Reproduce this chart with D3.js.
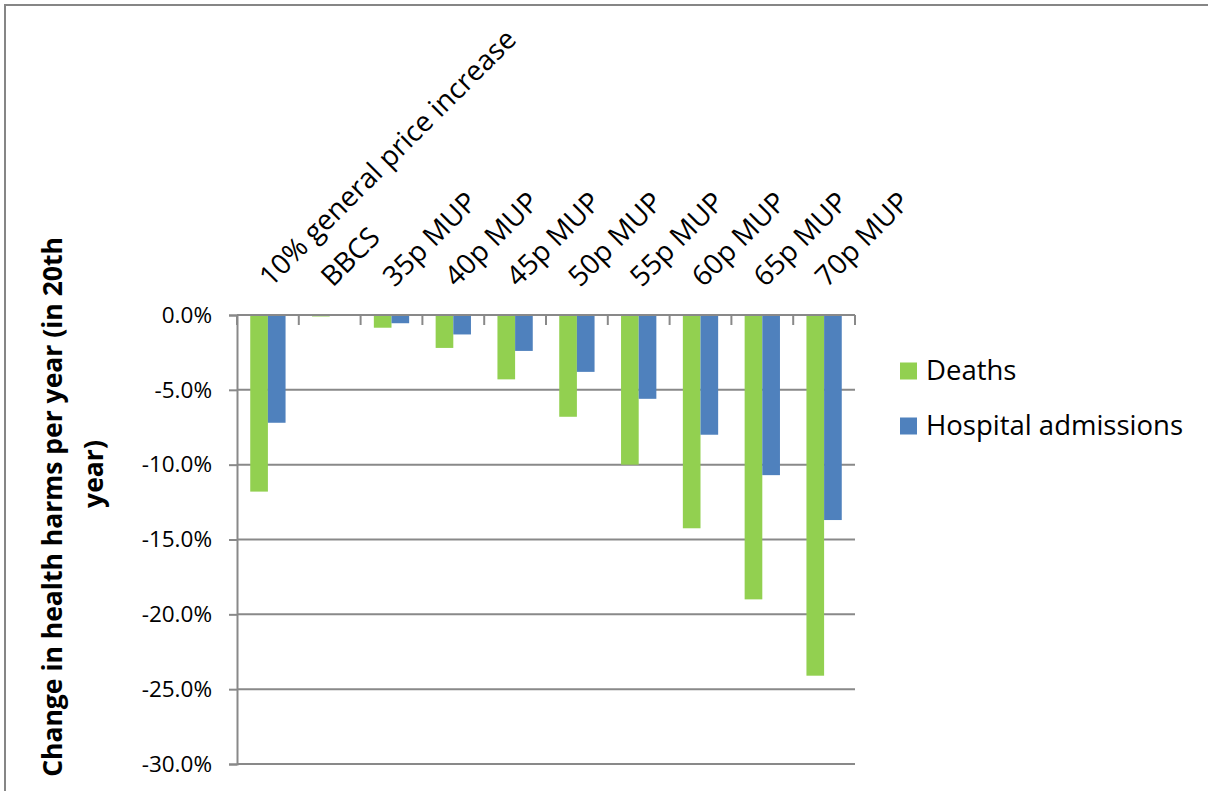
<!DOCTYPE html>
<html><head><meta charset="utf-8">
<script src="https://cdn.jsdelivr.net/npm/d3@7"></script>
<style>
html,body{margin:0;padding:0;background:#fff;}
svg{display:block;}
text{font-family:"Open Sans",sans-serif;fill:#000;}
</style></head>
<body>
<svg id="chart" width="1208" height="791"></svg>
<script>
const categories = ["10% general price increase","BBCS","35p MUP","40p MUP","45p MUP","50p MUP","55p MUP","60p MUP","65p MUP","70p MUP"];
const seriesNames = ["Deaths","Hospital admissions"];
const deaths = [-11.8,-0.1,-0.85,-2.2,-4.3,-6.8,-10.0,-14.25,-19.0,-24.1];
const hospital = [-7.2,-0.05,-0.55,-1.3,-2.4,-3.8,-5.6,-8.0,-10.7,-13.7];
const yTicks = [0,-5,-10,-15,-20,-25,-30];
const colors = ["#92D050","#4F81BD"];
const yTitle = ["Change in health harms per year (in 20th","year)"];

const svg = d3.select("#chart");
// outer frame
svg.append("rect").attr("x",5).attr("y",5).attr("width",1240).attr("height",820)
  .attr("fill","none").attr("stroke","#868686").attr("stroke-width",2);

const L=237,R=855,T=315,B=764;
const x = d3.scaleBand().domain(categories).range([L,R]).padding(0);
const x1 = d3.scaleBand().domain(seriesNames).range([0,x.bandwidth()]).paddingInner(0).paddingOuter(0.75);
const y = d3.scaleLinear().domain([-30,0]).range([B,T]);

// gridlines
svg.append("g").selectAll("line").data(yTicks.filter(d=>d!==0)).join("line")
  .attr("x1",L).attr("x2",R).attr("y1",d=>y(d)).attr("y2",d=>y(d))
  .attr("stroke","#898989").attr("stroke-width",2);

// bars
const data = categories.map((c,i)=>({c, vals:[deaths[i],hospital[i]]}));
const g = svg.append("g");
data.forEach(d=>{
  d.vals.forEach((v,j)=>{
    g.append("rect")
      .attr("x",x(d.c)+x1(seriesNames[j]))
      .attr("y",y(0))
      .attr("width",x1.bandwidth())
      .attr("height",Math.max(0.8,y(v)-y(0)))
      .attr("fill",colors[j]);
  });
});

// y axis
const yAxis = d3.axisLeft(y).tickValues(yTicks).tickSize(8).tickPadding(17)
  .tickFormat(d=>d3.format(".1f")(d).replace("\u2212","-")+"%");
const ya = svg.append("g").attr("transform",`translate(${L},0)`).call(yAxis);
ya.select(".domain").attr("stroke","#898989").attr("stroke-width",2);
ya.selectAll(".tick line").attr("stroke","#898989").attr("stroke-width",2);
ya.selectAll(".tick text").style("font-size","22.5px").attr("fill","#000");

// x axis at zero, ticks downward
const xa = svg.append("g");
xa.append("line").attr("x1",L).attr("x2",R).attr("y1",y(0)).attr("y2",y(0))
  .attr("stroke","#898989").attr("stroke-width",2);
const bounds = categories.map(c=>x(c)).concat([R]);
xa.selectAll("line.tk").data(bounds).join("line").attr("class","tk")
  .attr("x1",d=>d).attr("x2",d=>d).attr("y1",y(0)).attr("y2",y(0)+10)
  .attr("stroke","#898989").attr("stroke-width",2);
xa.selectAll("text").data(categories).join("text")
  .attr("transform",d=>`translate(${x(d)+x.bandwidth()/2+3},${y(0)-27}) rotate(-45)`)
  .attr("text-anchor","start").style("font-size","28px").text(d=>d);

// y title
const yt = svg.append("g");
yt.append("text").attr("transform","translate(62,507) rotate(-90)").attr("text-anchor","middle")
  .style("font-size","26.5px").style("font-weight","bold").text(yTitle[0]);
yt.append("text").attr("transform","translate(103,474) rotate(-90)").attr("text-anchor","middle")
  .style("font-size","26.5px").style("font-weight","bold").text(yTitle[1]);

// legend
const lg = svg.append("g");
seriesNames.forEach((s,i)=>{
  const cy = 371 + i*55;
  lg.append("rect").attr("x",900).attr("y",cy-8.5).attr("width",17).attr("height",17).attr("fill",colors[i]);
  lg.append("text").attr("x",926).attr("y",cy+9).style("font-size","27.5px").text(s);
});
</script>
</body></html>
